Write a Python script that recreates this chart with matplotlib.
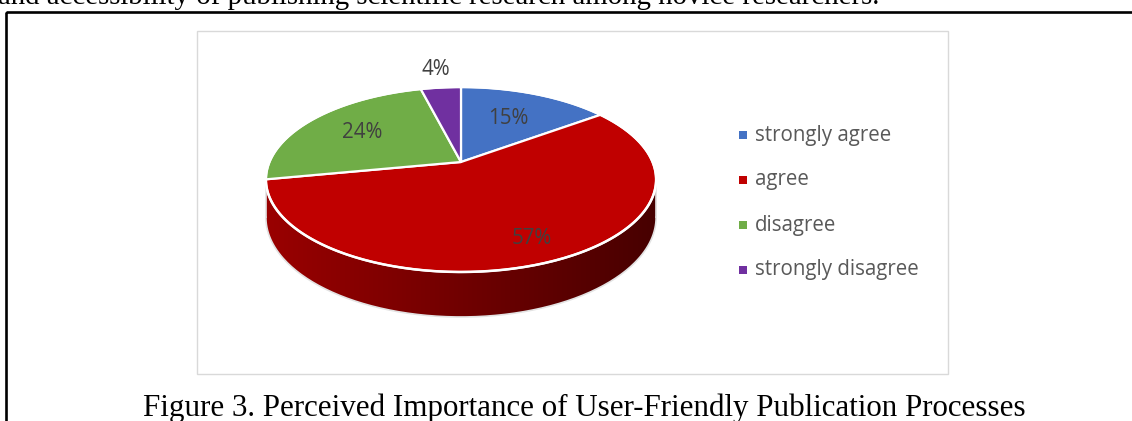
import numpy as np
import matplotlib.pyplot as plt
from matplotlib.patches import Polygon, Rectangle
from matplotlib.colors import to_rgb

# data
categories = ["strongly agree", "agree", "disagree", "strongly disagree"]
shares = [15, 57, 24, 4]
pct_labels = ["15%", "57%", "24%", "4%"]
colors = ["#4472C4", "#C00000", "#70AD47", "#7030A0"]

caption = "Figure 3. Perceived Importance of User-Friendly Publication Processes"
top_line = "and accessibility of publishing scientific research among novice researchers."

# fake 3d pie geometry (pixel space)
CX, CY = 461, 162      # apex of the pie on screen
SX, SY = 191.6, 89.2   # radii
K = 0.189              # perspective
DEPTH = 36.5           # thickness
label_r = [0.6, 0.8, 0.65, 1.3]


def project(theta, r=1.0, drop=0.0):
    """theta in degrees, clockwise from 12 o'clock."""
    t = np.radians(theta)
    X = r * np.sin(t)
    Y = r * np.cos(t)
    w = 1 + K * Y
    return CX + SX * X / w, CY - SY * Y / w + drop / w


fig = plt.figure(figsize=(11.32, 4.21), dpi=100)
ax = fig.add_axes([0, 0, 1, 1])
ax.set_xlim(0, 1132)
ax.set_ylim(421, 0)
ax.axis("off")

# page furniture
ax.text(-2, 4, top_line, family="Liberation Serif", fontsize=20.8, color="black", va="baseline")
ax.add_patch(Rectangle((6, 12), 1200, 500, fill=False, edgecolor="black", lw=1.9))
ax.add_patch(Rectangle((197, 31), 751, 343, fill=False, edgecolor="#d9d9d9", lw=1.0))

bounds = np.concatenate([[0], np.cumsum(shares)]) / sum(shares) * 360.0

# visible side: where the rim faces the viewer
side_lo = np.degrees(np.arccos(-K))
side_hi = 360 - side_lo
gx = np.linspace(0, 1, 256)
for i in range(len(shares)):
    a = max(bounds[i], side_lo)
    b = min(bounds[i + 1], side_hi)
    if b <= a:
        continue
    th = np.linspace(a, b, 200)
    tx, ty = project(th)
    bx, by = project(th[::-1], drop=DEPTH)
    side = Polygon(list(zip(tx, ty)) + list(zip(bx, by)), closed=True, facecolor="none", edgecolor="none")
    ax.add_patch(side)
    base = np.array(to_rgb(colors[i]))
    shade = 0.80 - 0.43 * gx
    grad = (shade[:, None] * base[None, :])[None, :, :]
    x0, x1 = CX - SX * 1.02, CX + SX * 1.02
    im = ax.imshow(grad, extent=(x0, x1, by.max() + 2, ty.min() - 2), aspect="auto",
                   interpolation="bilinear")
    im.set_clip_path(side)

# light rim along the bottom edge
th = np.linspace(side_lo, side_hi, 200)
bx, by = project(th, drop=DEPTH)
ax.plot(bx, by, color="#e3e3e3", lw=1.2)
for t in (side_lo, side_hi):
    ex, ey = project(np.array([t, t]), drop=np.array([0, DEPTH]))
    ax.plot(ex, ey, color="#e3e3e3", lw=1.2)

# top faces
for i in range(len(shares)):
    th = np.linspace(bounds[i], bounds[i + 1], 200)
    px, py = project(th)
    pts = [(CX, CY)] + list(zip(px, py))
    ax.add_patch(Polygon(pts, closed=True, facecolor=colors[i], edgecolor="white", lw=1.6, joinstyle="round"))

th = np.linspace(0, 360, 400)
ox, oy = project(th)
ax.plot(ox, oy, color="white", lw=1.8)

# data labels
for i in range(len(shares)):
    mid = 0.5 * (bounds[i] + bounds[i + 1])
    lx, ly = project(mid, r=label_r[i])
    ax.text(lx, ly, pct_labels[i], family="Open Sans", fontsize=14.8, color="#404040", ha="center", va="center")

# legend
for i, name in enumerate(categories):
    yy = 135 + 45 * i
    ax.scatter([743], [yy], marker="s", s=40, color=colors[i], linewidths=0)
    ax.text(755, yy, name, family="Open Sans", fontsize=14.8, color="#595959", va="center")

ax.text(584.5, 416, caption, family="Liberation Serif", fontsize=22.3, color="black", ha="center", va="baseline")

fig.savefig("out.png", dpi=100)
